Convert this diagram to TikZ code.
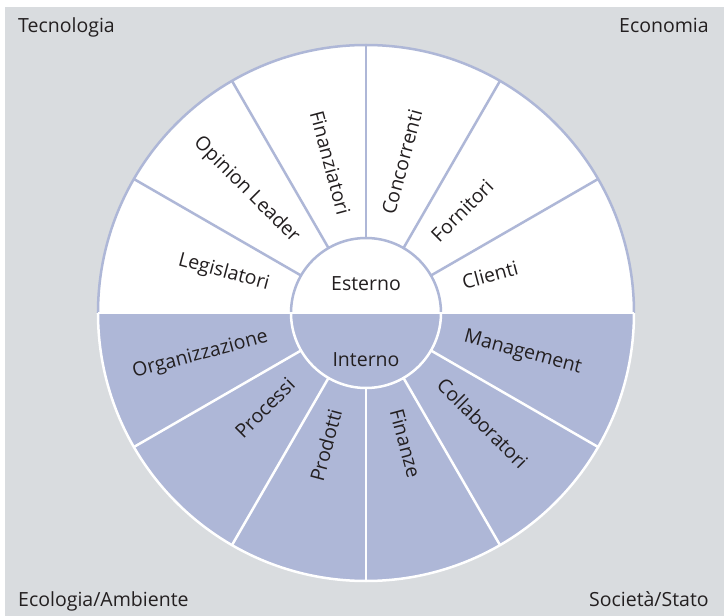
\documentclass[tikz,border=0pt]{standalone}
\usepackage{fontspec}
\setmainfont{Open Sans}
\usepackage{tikz}
\usetikzlibrary{positioning}
\definecolor{wheelblue}{RGB}{174,183,215}
\definecolor{bggrey}{RGB}{217,220,223}
\definecolor{labelgrey}{RGB}{35,31,32}
\tikzset{wheelstyle/.style={
    x=1pt,y=1pt,% one unit per pixel of the sketch
    line width=2.5pt,
    every node/.style={% all texts
      text=labelgrey,
      font=\fontsize{19.5}{21}\selectfont,
      inner sep=0pt
    },
    outerline/.style={draw=wheelblue},% upper half
    innerline/.style={draw=white}% lower half
  }
}

\begin{document}
\begin{tikzpicture}[wheelstyle]
  \useasboundingbox (-366,-303) rectangle (358,313);
  \fill[bggrey] (-361,-303) rectangle (358,306);
  \coordinate (hub) at (0,0);
  % the two halves
  \fill[white] (hub) ++(268,0) arc[start angle=0,end angle=180,radius=268] -- cycle;
  \fill[wheelblue] (hub) ++(-268,0) arc[start angle=180,end angle=360,radius=268] -- cycle;
  % spokes and rims
  \foreach \a in {30,60,...,150}
    \draw[outerline] (\a:75) -- (\a:268);
  \draw[outerline] (268,0) arc[start angle=0,end angle=180,radius=268];
  \draw[outerline] (75,0) arc[start angle=0,end angle=180,radius=75];
  \foreach \a in {210,240,...,330}
    \draw[innerline] (\a:75) -- (\a:268);
  \draw[innerline] (-268,0) arc[start angle=180,end angle=360,radius=268];
  \draw[innerline] (-75,0) arc[start angle=180,end angle=360,radius=75];
  \draw[innerline] (-268,0) -- (268,0);
  % hub texts
  \node (esterno) at (0,29) {Esterno};
  \node[below=59pt of esterno,on grid] (interno) {Interno};
  % sector texts
  \foreach \a/\txt/\nm in {15/Clienti/clienti,45/Fornitori/fornitori,
      75/Concorrenti/concorrenti,285/Finanze/finanze,
      315/Collaboratori/collaboratori,345/Management/management}
    \node[anchor=mid west,rotate=\a] (\nm) at (\a:100) {\txt};
  \foreach \a/\txt/\nm in {105/Finanziatori/finanziatori,135/Opinion Leader/opinion,
      165/Legislatori/legislatori,195/Organizzazione/organizzazione,
      225/Processi/processi,255/Prodotti/prodotti}
    \node[anchor=mid east,rotate=\a-180] (\nm) at (\a:100) {\txt};
  % corner texts
  \node[anchor=base west] (tecnologia) at (-349,280) {Tecnologia};
  \node[anchor=base east] (economia) at (344,280) {Economia};
  \node[anchor=base west] (ecologia) at (-349,-293) {Ecologia/Ambiente};
  \node[anchor=base east] (societa) at (344,-293) {Società/Stato};
\end{tikzpicture}
\end{document}
